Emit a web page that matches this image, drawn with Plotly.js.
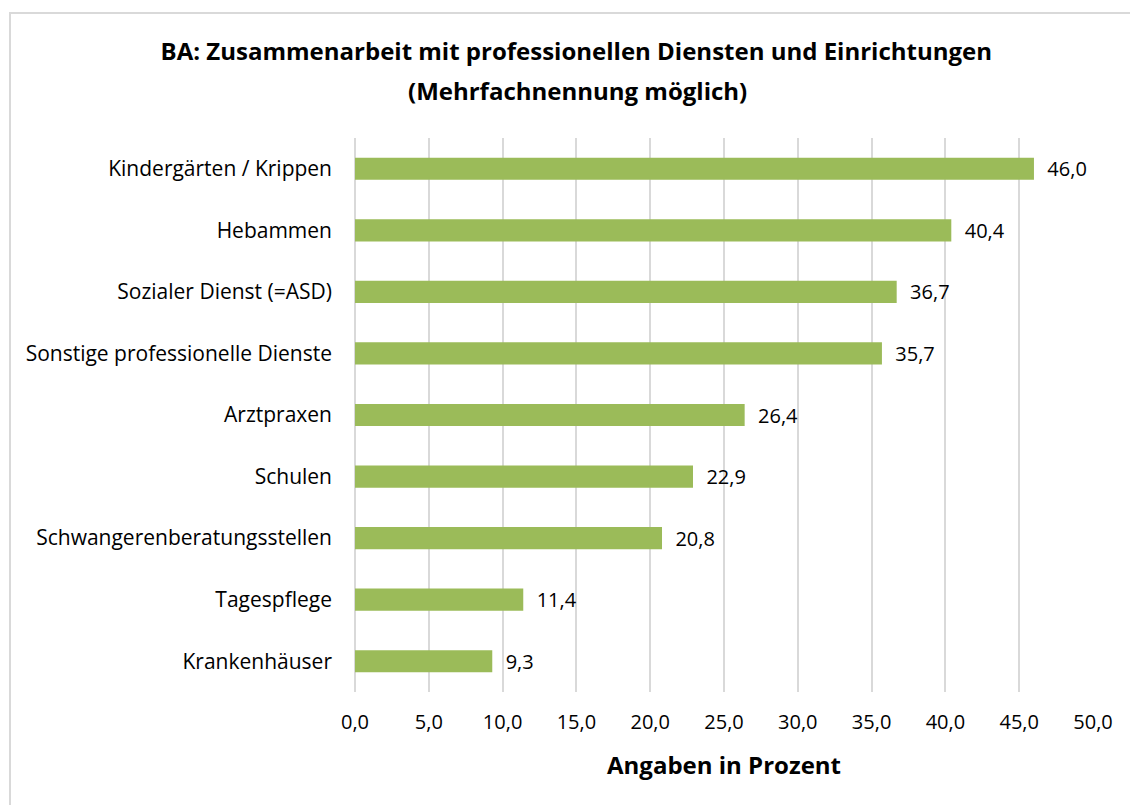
<!DOCTYPE html>
<html><head><meta charset="utf-8">
<script src="https://cdn.plot.ly/plotly-3.0.1.min.js"></script>
<style>body{margin:0;padding:0;background:#fff}#chart{width:1130px;height:805px}</style>
</head><body><div id="chart"></div>
<script>
const categories = ["Kindergärten / Krippen","Hebammen","Sozialer Dienst (=ASD)","Sonstige professionelle Dienste","Arztpraxen","Schulen","Schwangerenberatungsstellen","Tagespflege","Krankenhäuser"];
const values = [46.0,40.4,36.7,35.7,26.4,22.9,20.8,11.4,9.3];
const tickVals = [0,5,10,15,20,25,30,35,40,45,50];
const tickText = ["0,0","5,0","10,0","15,0","20,0","25,0","30,0","35,0","40,0","45,0","50,0"];
const fmt = v => v.toFixed(1).replace(".", ",");
const font = "Open Sans, Liberation Sans, sans-serif";
const plotW = 738, plotH = 554;
Plotly.newPlot("chart", [{
  type: "bar", orientation: "h",
  y: categories.slice().reverse(), x: values.slice().reverse(),
  marker: {color: "#9BBB59"},
  text: values.slice().reverse().map(v => "  " + fmt(v)), textposition: "outside",
  constraintext: "none",
  textfont: {size: 20, color: "#000", family: font},
  cliponaxis: false, hoverinfo: "none"
}], {
  width: 1130, height: 805,
  margin: {l: 355, r: 37, t: 138, b: 113},
  paper_bgcolor: "#fff", plot_bgcolor: "#fff",
  bargap: 0.64,
  showlegend: false,
  title: {text: "<b>BA: Zusammenarbeit mit professionellen Diensten und Einrichtungen</b>", font: {size: 24, family: font, color: "#000"}, x: 0.51, xanchor: "center", y: 1 - 52/805, yanchor: "middle"},
  annotations: [{text: "<b>(Mehrfachnennung möglich)</b>", xref: "paper", yref: "paper", x: (577-355)/plotW, y: 1 + (138-90)/plotH, xanchor: "center", yanchor: "middle", showarrow: false, font: {size: 24, family: font, color: "#000"}}],
  xaxis: {range: [0, 50], tickvals: tickVals, ticktext: tickText, showgrid: true, gridcolor: "#D9D9D9", gridwidth: 2, zeroline: true, zerolinecolor: "#D9D9D9", zerolinewidth: 2, showline: false, ticks: "", ticklabelstandoff: 16, tickfont: {size: 20, family: font, color: "#000"},
    title: {text: "<b>Angaben in Prozent</b>", font: {size: 24, family: font, color: "#000"}, standoff: 23}},
  yaxis: {automargin: false, ticks: "", ticklen: 0, ticklabelstandoff: 22, tickfont: {size: 21, family: font, color: "#000"}, showgrid: false, showline: false},
  shapes: [{type: "rect", xref: "paper", yref: "paper", x0: -345/plotW, x1: (1140-355)/plotW, y0: -1, y1: 1 + 125/plotH, line: {color: "#D9D9D9", width: 2}, fillcolor: "rgba(0,0,0,0)", layer: "below"}]
}, {displayModeBar: false, staticPlot: true});
</script></body></html>
